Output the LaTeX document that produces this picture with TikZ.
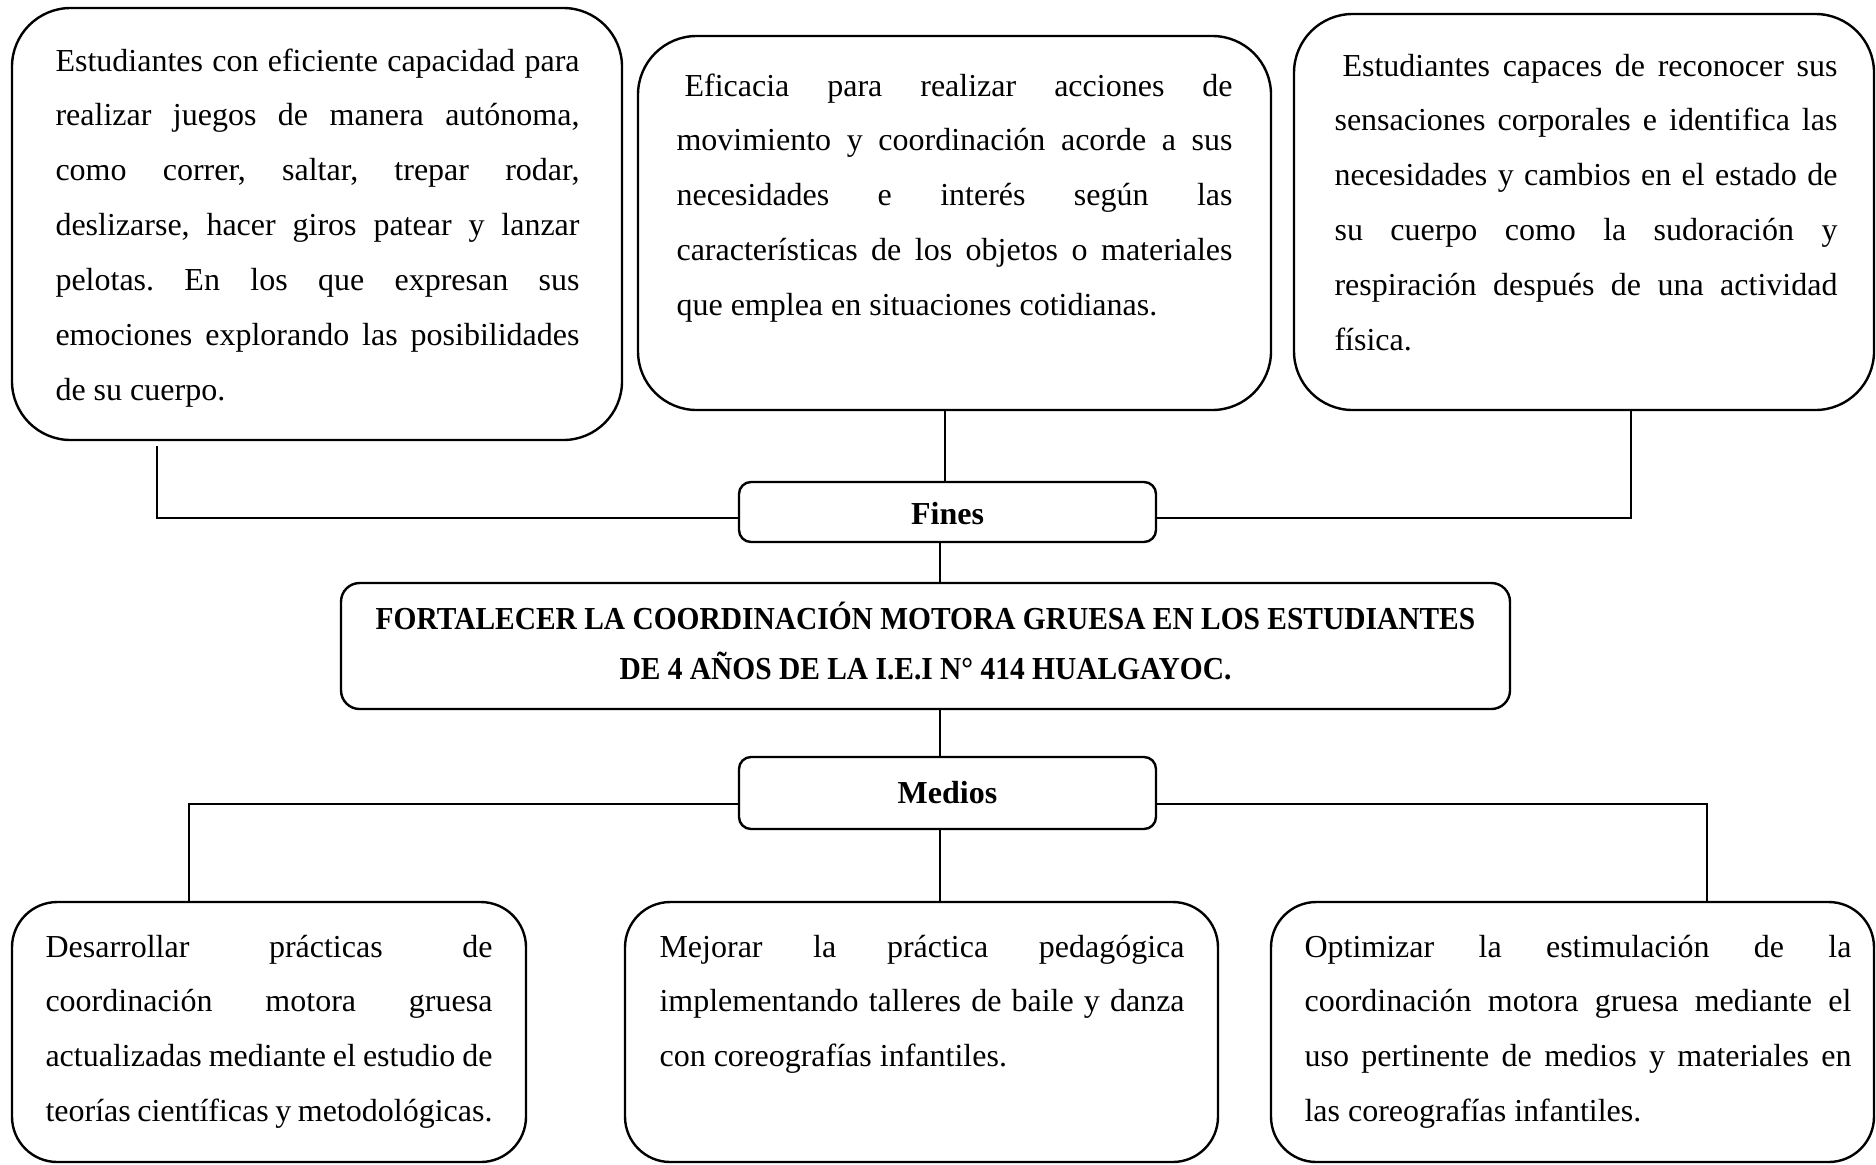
\documentclass[tikz,border=0pt]{standalone}
\usepackage{fontspec}
\setmainfont{Liberation Serif}
\newfontfamily\titlefont{Liberation Serif}[FakeStretch=0.92]
\usetikzlibrary{calc}
\frenchspacing
\newcommand{\jl}[1]{\makebox[\hsize][s]{#1}\par}
\newcommand{\txtpar}[2]{\parbox[t]{#1}{\fontsize{12pt}{20.6pt}\selectfont #2}}
\begin{document}
\begin{tikzpicture}[x=0.375pt,y=-0.375pt,
  bigbox/.style={draw, line width=0.9pt, rounded corners=22pt, inner sep=0pt},
  lowbox/.style={draw, line width=0.9pt, rounded corners=17pt, inner sep=0pt},
  labbox/.style={draw, line width=0.9pt, rounded corners=4.5pt, inner sep=0pt},
  mainbox/.style={draw, line width=0.9pt, rounded corners=7pt, inner sep=0pt},
  txt/.style={inner sep=0pt, anchor=base west},
  conn/.style={line width=0.6pt}]
\useasboundingbox (0,0) rectangle (1876,1164);
% boxes
\node[bigbox, minimum width=610*0.375pt, minimum height=432*0.375pt] (TL) at (317,224) {};
\node[bigbox, minimum width=633*0.375pt, minimum height=374*0.375pt] (TM) at (954.5,223) {};
\node[bigbox, minimum width=580*0.375pt, minimum height=396*0.375pt] (TR) at (1584,212) {};
\node[labbox, minimum width=417*0.375pt, minimum height=60*0.375pt] (Fines) at (947.5,512) {};
\node[mainbox, minimum width=1169*0.375pt, minimum height=126*0.375pt] (Main) at (925.5,646) {};
\node[labbox, minimum width=417*0.375pt, minimum height=72*0.375pt] (Medios) at (947.5,793) {};
\node[lowbox, minimum width=514*0.375pt, minimum height=260*0.375pt] (BL) at (269,1032) {};
\node[lowbox, minimum width=593*0.375pt, minimum height=260*0.375pt] (BM) at (921.5,1032) {};
\node[lowbox, minimum width=603*0.375pt, minimum height=260*0.375pt] (BR) at (1572.5,1032) {};
% texts
\node[txt] (tTL) at (55,71) {\txtpar{196.5pt}{%
\jl{Estudiantes con eficiente capacidad para}
\jl{realizar juegos de manera autónoma,}
\jl{como correr, saltar, trepar rodar,}
\jl{deslizarse, hacer giros patear y lanzar}
\jl{pelotas. En los que expresan sus}
\jl{emociones explorando las posibilidades}
de su cuerpo.}};
\node[txt] (tTM) at (676,96) {\txtpar{208.5pt}{%
\jl{\hspace*{3pt}Eficacia para realizar acciones de}
\jl{movimiento y coordinación acorde a sus}
\jl{necesidades e interés según las}
\jl{características de los objetos o materiales}
que emplea en situaciones cotidianas.}};
\node[txt] (tTR) at (1334,76) {\txtpar{188.6pt}{%
\jl{\hspace*{3pt}Estudiantes capaces de reconocer sus}
\jl{sensaciones corporales e identifica las}
\jl{necesidades y cambios en el estado de}
\jl{su cuerpo como la sudoración y}
\jl{respiración después de una actividad}
física.}};
\node[inner sep=0pt, anchor=base, font=\fontsize{12pt}{14pt}\selectfont\bfseries] (tFines) at (947.5,524) {Fines};
\node[inner sep=0pt, anchor=center, align=center, font=\fontsize{12pt}{18.75pt}\selectfont\titlefont\bfseries] (tMain) at (925.5,641)
 {FORTALECER LA COORDINACIÓN MOTORA GRUESA EN LOS ESTUDIANTES\\DE 4 AÑOS DE LA I.E.I N° 414 HUALGAYOC.};
\node[inner sep=0pt, anchor=base, font=\fontsize{12pt}{14pt}\selectfont\bfseries] (tMedios) at (947.5,803) {Medios};
\node[txt] (tBL) at (45,957) {\txtpar{167.6pt}{%
\jl{Desarrollar prácticas de}
\jl{coordinación motora gruesa}
\jl{actualizadas mediante el estudio de}
teorías científicas y metodológicas.}};
\node[txt] (tBM) at (659,957) {\txtpar{196.9pt}{%
\jl{Mejorar la práctica pedagógica}
\jl{implementando talleres de baile y danza}
con coreografías infantiles.}};
\node[txt] (tBR) at (1304,957) {\txtpar{205.1pt}{%
\jl{Optimizar la estimulación de la}
\jl{coordinación motora gruesa mediante el}
\jl{uso pertinente de medios y materiales en}
las coreografías infantiles.}};
% connectors
\coordinate (cTL) at (157,446);
\coordinate (cTR) at (1631,410);
\coordinate (cBL) at (189,902);
\coordinate (cBR) at (1707,902);
\draw[conn] (cTL) |- ($(Fines.west)+(0,6)$);
\draw[conn] ($(Fines.east)+(0,6)$) -| (cTR);
\draw[conn] (Fines.north -| 945,0) -- (TM.south -| 945,0);
\draw[conn] (Fines.south -| 940,0) -- (Main.north -| 940,0);
\draw[conn] (Main.south -| 940,0) -- (Medios.north -| 940,0);
\draw[conn] ($(Medios.west)+(0,11)$) -| (cBL);
\draw[conn] ($(Medios.east)+(0,11)$) -| (cBR);
\draw[conn] (Medios.south -| 940,0) -- (BM.north -| 940,0);
\end{tikzpicture}
\end{document}
